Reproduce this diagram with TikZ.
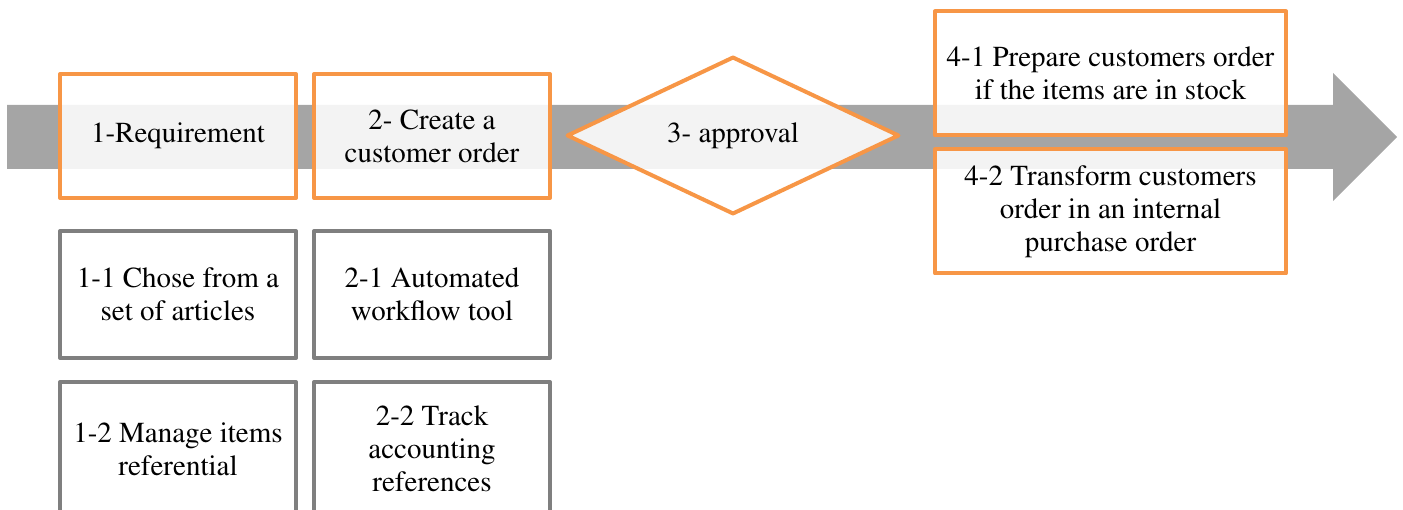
\documentclass[tikz,border=0pt]{standalone}
\usepackage[T1]{fontenc}
\usepackage{mathptmx}
\usepackage{tikz}
\usetikzlibrary{positioning, shapes.geometric, backgrounds}
\pgfdeclarelayer{myback}
\pgfsetlayers{myback,background,main}
\definecolor{steporange}{HTML}{F79646}
\definecolor{subgray}{HTML}{7F7F7F}
\definecolor{bandgray}{HTML}{A5A5A5}
\tikzset{
	stepbox/.style = {draw=steporange, line width=0.08cm, line join=round,
		fill=white, fill opacity=0.87, text opacity=1, inner sep=0pt,
		align=center, minimum width=4.72cm, minimum height=2.48cm},
	subbox/.style = {stepbox, draw=subgray, minimum height=2.54cm},
	widebox/.style = {stepbox, minimum width=7.02cm},
	decision/.style = {stepbox, diamond, minimum width=6.65cm, minimum height=2.52cm},
}
\begin{document}
\begin{tikzpicture}[font=\fontsize{16.5}{18.8}\selectfont]
\useasboundingbox (0,0) rectangle (28.06,-10.2);
\clip (0,0) rectangle (28.06,-10.2);
% steps
\node[stepbox] (req) at (3.56,-2.72) {1-Requirement};
\node[stepbox, right=0.28cm of req] (create) {2- Create a\\ customer order};
\node[decision] (approval) at (14.66,-2.71) {3- approval};
\node[widebox] (prepare) at (22.21,-1.47) {4-1 Prepare customers order\\ if the items are in stock};
\node[widebox, below=0.2cm of prepare] (transform) {4-2 Transform customers\\ order in an internal\\ purchase order};
% details
\node[subbox, below=0.58cm of req] (chose) {1-1 Chose from a\\ set of articles};
\node[subbox, below=0.4cm of chose, minimum height=2.68cm] (manage) {1-2 Manage items\\ referential};
\node[subbox, below=0.58cm of create] (workflow) {2-1 Automated\\ workflow tool};
\node[subbox, below=0.4cm of workflow, minimum height=2.68cm] (track) {2-2 Track\\ accounting\\ references};
\begin{pgfonlayer}{myback}
\coordinate (tail) at (0.14,-2.74);
\coordinate (tip) at (27.94,-2.74);
\fill[bandgray] ([yshift=0.64cm]tail) -- (26.66,-2.10) -- (26.66,-1.46) -- (tip)
	-- (26.66,-4.02) -- (26.66,-3.38) -- ([yshift=-0.64cm]tail) -- cycle;
\end{pgfonlayer}
\end{tikzpicture}
\end{document}
